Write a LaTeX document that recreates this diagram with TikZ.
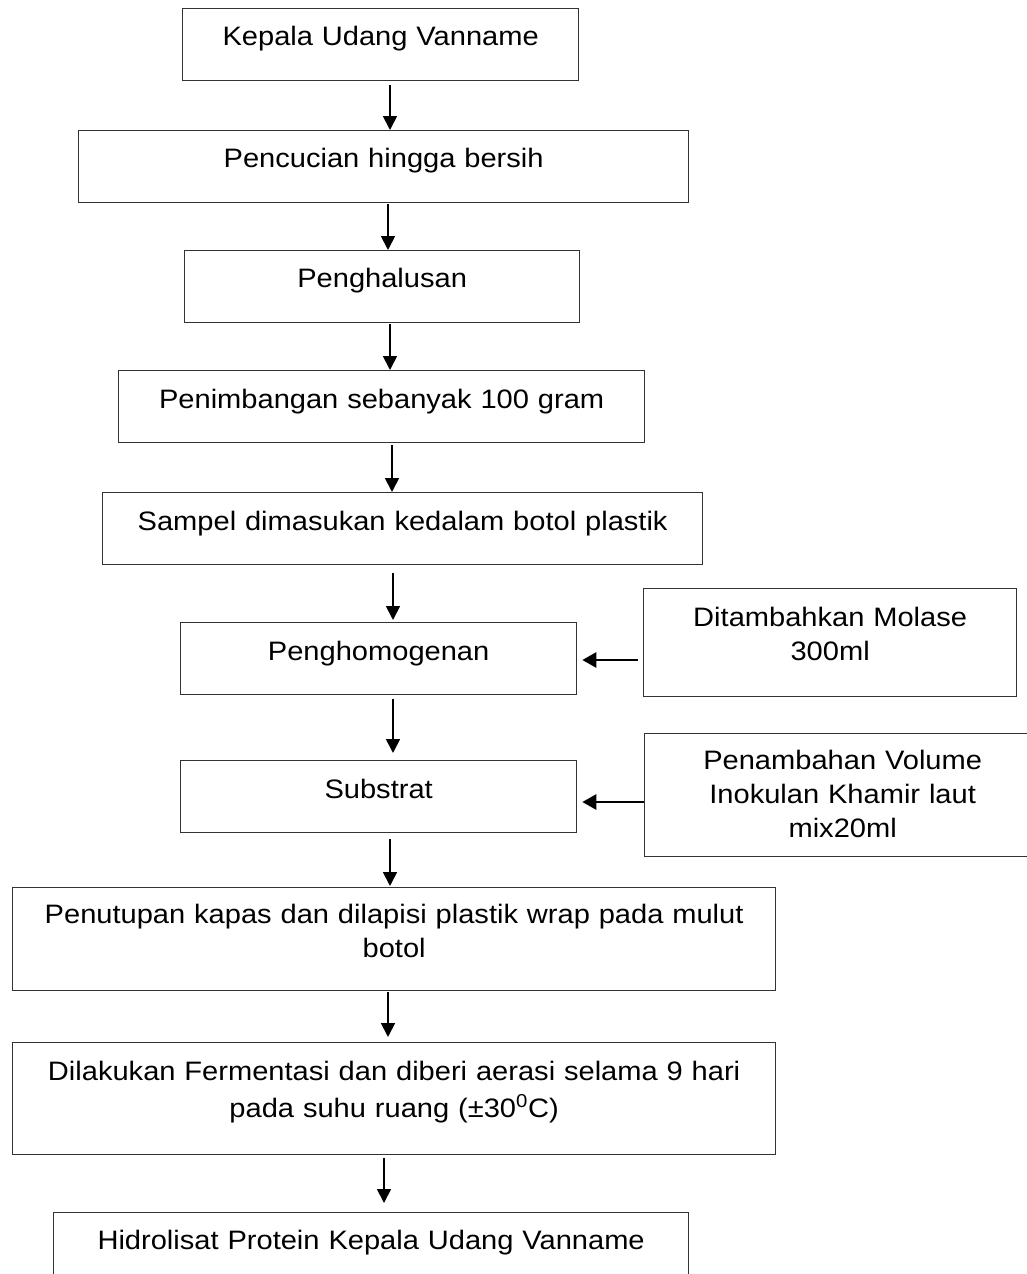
\documentclass[tikz,border=0pt]{standalone}
\usepackage{fontspec}
\setmainfont{Liberation Sans}[FakeStretch=1.09]
\usetikzlibrary{arrows.meta}
\tikzset{
  box/.style={draw=black!80, line width=0.975pt, anchor=north west, inner sep=0pt,
    align=center, font=\fontsize{20pt}{25.5pt}\selectfont},
  varr/.style={-{Triangle[length=10.5pt,width=10.5pt]}, line width=1.35pt, draw=black},
  harr/.style={-{Triangle[length=10.5pt,width=11.25pt]}, line width=1.95pt, draw=black},
}
\begin{document}
\begin{tikzpicture}[x=0.75pt,y=-0.75pt]
\path[fill=white, use as bounding box] (0,0) rectangle (1027,1274);

\node[box, minimum width=297pt, text width=297pt, text height=27.75pt, text depth=26.25pt] (b1) at (182,8) {Kepala Udang Vanname};
\node[box, minimum width=457.5pt, text width=457.5pt, text height=27.75pt, text depth=26.25pt] (b2) at (78,130) {Pencucian hingga bersih};
\node[box, minimum width=296.25pt, text width=296.25pt, text height=27.75pt, text depth=26.25pt] (b3) at (184,250) {Penghalusan};
\node[box, minimum width=394.5pt, text width=394.5pt, text height=28.5pt, text depth=25.5pt] (b4) at (118,370) {Penimbangan sebanyak 100 gram};
\node[box, minimum width=450pt, text width=450pt, text height=28.5pt, text depth=25.5pt] (b5) at (102,492) {Sampel dimasukan kedalam botol plastik};
\node[box, minimum width=297pt, text width=297pt, text height=28.5pt, text depth=25.5pt] (b6) at (180,622) {Penghomogenan};
\node[box, minimum width=279.75pt, text width=279.75pt, text height=28.5pt, text depth=52.5pt] (b6b) at (643,588) {Ditambahkan Molase\\300ml};
\node[box, minimum width=297pt, text width=297pt, text height=28.5pt, text depth=25.5pt] (b7) at (180,760) {Substrat};
\node[box, minimum width=297pt, text width=297pt, text height=27pt, text depth=65.25pt] (b7b) at (644,733) {Penambahan Volume\\Inokulan Khamir laut\\mix20ml};
\node[box, minimum width=572.25pt, text width=572.25pt, text height=27pt, text depth=50.25pt] (b8) at (12,887) {Penutupan kapas dan dilapisi plastik wrap pada mulut\\botol};
\node[box, minimum width=572.25pt, text width=572.25pt, text height=28.5pt, text depth=55.5pt] (b9) at (12,1042) {Dilakukan Fermentasi dan diberi aerasi selama 9 hari\\[2.25pt]pada suhu ruang (±30\textsuperscript{0}C)};
\node[box, minimum width=476.25pt, text width=476.25pt, text height=27.75pt, text depth=38.25pt] (b10) at (53,1212) {Hidrolisat Protein Kepala Udang Vanname};

\draw[varr, shorten <=3pt] (b1.south -| 390,0) -- (b2.north -| 390,0);
\draw[varr, shorten <=0.75pt] (b2.south -| 388,0) -- (b3.north -| 388,0);
\draw[varr, shorten <=0.75pt] (b3.south -| 390,0) -- (b4.north -| 390,0);
\draw[varr, shorten <=1.5pt] (b4.south -| 392,0) -- (b5.north -| 392,0);
\draw[varr, shorten <=6pt, shorten >=1.5pt] (b5.south -| 393,0) -- (b6.north -| 393,0);
\draw[varr, shorten <=3pt, shorten >=5.25pt] (b6.south -| 393,0) -- (b7.north -| 393,0);
\draw[varr, shorten <=4.5pt, shorten >=0.75pt] (b7.south -| 390,0) -- (b8.north -| 390,0);
\draw[varr, shorten <=0.75pt, shorten >=3.75pt] (b8.south -| 388,0) -- (b9.north -| 388,0);
\draw[varr, shorten <=2.25pt, shorten >=6.75pt] (b9.south -| 384,0) -- (b10.north -| 384,0);

\draw[harr, shorten <=3.75pt, shorten >=3.75pt] (b6b.west |- 0,660) -- (b6.east |- 0,660);
\draw[harr, shorten >=3.75pt] (b7b.west |- 0,802) -- (b7.east |- 0,802);
\end{tikzpicture}
\end{document}
